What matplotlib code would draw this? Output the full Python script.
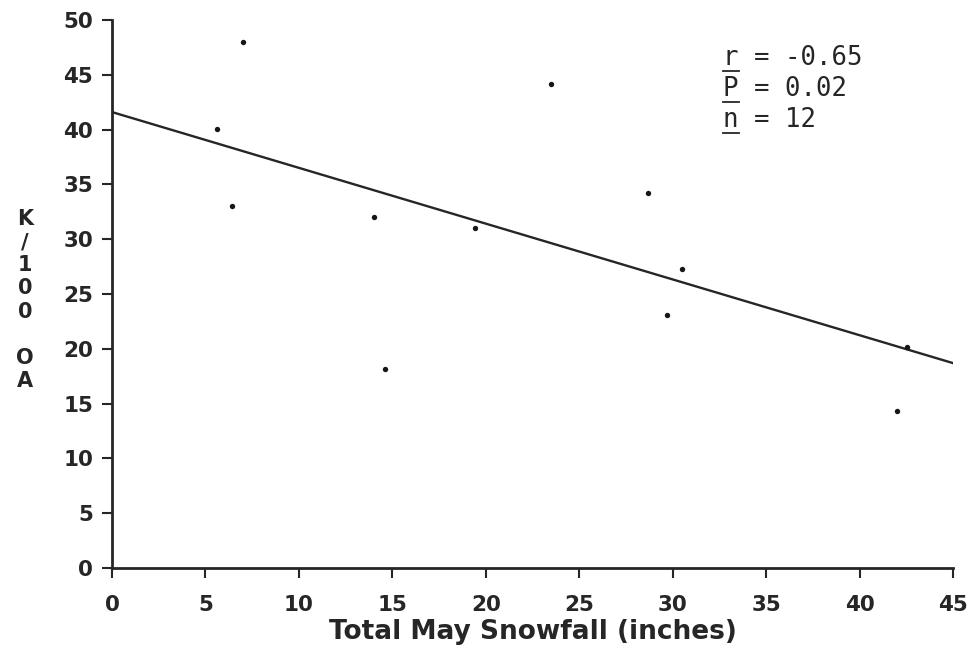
import matplotlib
matplotlib.use("Agg")
import matplotlib.pyplot as plt
import matplotlib.transforms as mtransforms
from matplotlib.lines import Line2D
import numpy as np

# Data
snowfall = [7.0, 5.6, 6.4, 14.0, 19.4, 23.5, 28.7, 30.5, 29.7, 14.6, 42.0, 42.55]
k_per_100 = [48.0, 40.05, 33.0, 32.0, 31.0, 44.2, 34.2, 27.3, 23.1, 18.2, 14.3, 20.2]
fit_intercept = 41.6
fit_slope = -0.509
x_ticks = [0, 5, 10, 15, 20, 25, 30, 35, 40, 45]
y_ticks = [0, 5, 10, 15, 20, 25, 30, 35, 40, 45, 50]
stats_labels = ["r", "P", "n"]
stats_values = ["-0.65", "0.02", "12"]

W, H = 975, 657
fig = plt.figure(figsize=(W / 100, H / 100), dpi=100)
ax = fig.add_axes([112 / W, 1 - 568 / H, (953 - 112) / W, (568 - 20) / H])

ink = "#262626"
ax.scatter(snowfall, k_per_100, s=15, color="#161616", zorder=3, linewidths=0)
xl = np.array([0, 45])
ax.plot(xl, fit_intercept + fit_slope * xl, color=ink, lw=1.7, zorder=2)

ax.set_xlim(0, 45)
ax.set_ylim(0, 50)
ax.set_xticks(x_ticks)
ax.set_yticks(y_ticks)
for s in ["top", "right"]:
    ax.spines[s].set_visible(False)
for s in ["left", "bottom"]:
    ax.spines[s].set_linewidth(2.0)
    ax.spines[s].set_color(ink)
ax.tick_params(axis="both", direction="out", length=7.5, width=1.5, color=ink)
ax.tick_params(axis="x", pad=12)
ax.tick_params(axis="y", pad=6)
for lab in ax.get_xticklabels() + ax.get_yticklabels():
    lab.set_fontfamily("DejaVu Sans")
    lab.set_fontweight("bold")
    lab.set_fontsize(15.5)
    lab.set_color(ink)

ax.set_xlabel("Total May Snowfall (inches)", fontsize=19, fontfamily="DejaVu Sans",
              fontweight="bold", color=ink, labelpad=3)

fig.text(25 / W, 1 - 300 / H, "K\n/\n1\n0\n0\n\nO\nA", ha="center", va="center",
         fontsize=15, fontweight="bold", fontfamily="DejaVu Sans", color=ink,
         linespacing=1.2)

mono = "DejaVu Sans Mono"
fs = 18.5
for i, (lab, val) in enumerate(zip(stats_labels, stats_values)):
    yb = 45.9 - i * 2.85
    ax.text(32.7, yb, f"{lab} = {val}", fontsize=fs, fontfamily=mono, color=ink,
            va="baseline", ha="left")
    # underline beneath the statistic's letter, positioned relative to the text anchor
    line = Line2D([0, 0.6 * fs], [0, 0], lw=1.3, color=ink,
                  transform=mtransforms.Affine2D().scale(100 / 72) +
                  mtransforms.ScaledTranslation(32.7, yb, ax.transData) +
                  mtransforms.Affine2D().translate(0, -6))
    fig.add_artist(line)

fig.savefig("out.png", dpi=100)
